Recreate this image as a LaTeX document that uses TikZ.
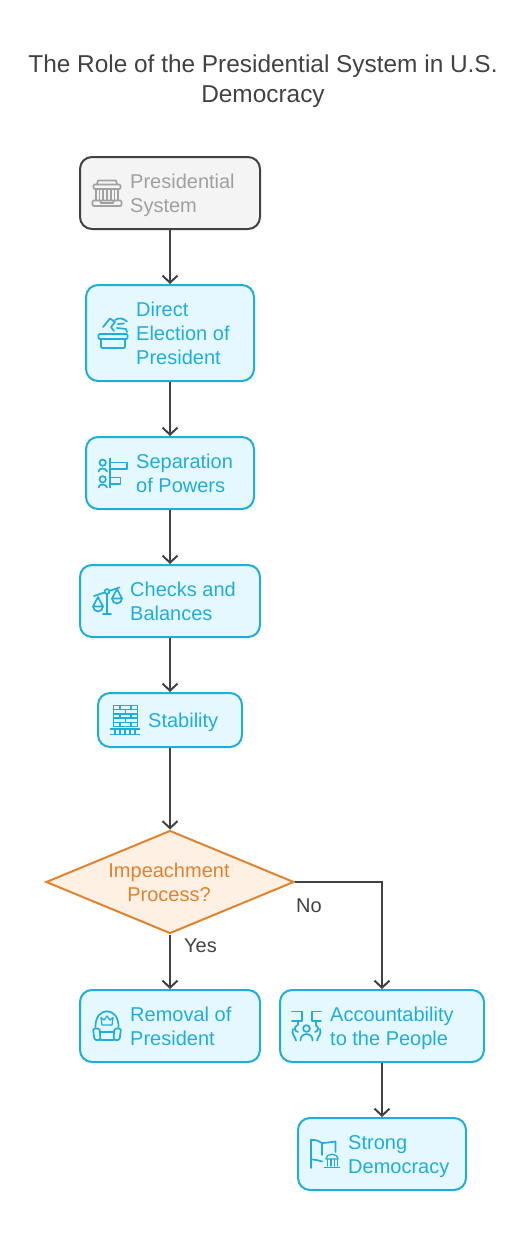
\documentclass[tikz,border=0pt]{standalone}
\usepackage{fontspec}
\setmainfont{Liberation Sans}
\usetikzlibrary{arrows.meta,shapes.geometric}
\definecolor{psBlue}{HTML}{1FADDB}
\definecolor{psBlueFill}{HTML}{E5F8FF}
\definecolor{psGray}{HTML}{A0A0A0}
\definecolor{psGrayFill}{HTML}{F4F4F4}
\definecolor{psDark}{HTML}{424242}
\definecolor{psOrange}{HTML}{E0832E}
\definecolor{psOrangeFill}{HTML}{FFF0E4}
\tikzset{
  flowbox/.style={draw=psBlue, fill=psBlueFill, line width=2pt, rounded corners=12pt, inner sep=0pt},
  startbox/.style={flowbox, draw=psDark, fill=psGrayFill},
  boxtext/.style={anchor=west, inner sep=0pt, align=left, text=psBlue, font=\fontsize{20}{24}\selectfont},
  starttext/.style={boxtext, text=psGray},
  choice/.style={diamond, draw=psOrange, fill=psOrangeFill, line width=2pt, inner sep=0pt, aspect=2.41},
  choicetext/.style={boxtext, anchor=center, align=center, text=psOrange},
  edgetext/.style={boxtext, text=psDark},
  arrow/.style={draw=psDark, line width=2pt, -{Straight Barb[length=7pt,width=15pt]}},
  icon/.style={draw=psBlue, line width=1.7pt, line join=round, line cap=round},
  starticon/.style={icon, draw=psGray}
}

\begin{document}
\begin{tikzpicture}[x=1pt, y=-1pt]
  \useasboundingbox (0,0) rectangle (531,1239);

  % Title
  \node[anchor=center, inner sep=0pt, align=center, text=psDark, font=\fontsize{24.4}{30}\selectfont] (title) at (263,81) {The Role of the Presidential System in U.S.\\Democracy};

  % Boxes
  \node[startbox, minimum width=180pt, minimum height=72pt] (system) at (170,193) {};
  \node[flowbox, minimum width=168pt, minimum height=96pt] (election) at (170,333) {};
  \node[flowbox, minimum width=168pt, minimum height=72pt] (separation) at (170,473) {};
  \node[flowbox, minimum width=180pt, minimum height=72pt] (checks) at (170,601) {};
  \node[flowbox, minimum width=144pt, minimum height=54pt] (stability) at (170,720) {};
  \node[choice, minimum width=248pt, minimum height=103pt] (impeachment) at (170,882) {};
  \node[flowbox, minimum width=180pt, minimum height=72pt] (removal) at (170,1026) {};
  \node[flowbox, minimum width=204pt, minimum height=72pt] (people) at (382,1026) {};
  \node[flowbox, minimum width=168pt, minimum height=72pt] (democracy) at (382,1154) {};

  % Box texts
  \node[starttext] (systemtext) at (130,195) {Presidential\\System};
  \node[boxtext] (electiontext) at (136,333) {Direct\\Election of\\President};
  \node[boxtext] (separationtext) at (136,473) {Separation\\of Powers};
  \node[boxtext] (checkstext) at (130,601) {Checks and\\Balances};
  \node[boxtext] (stabilitytext) at (148,722) {Stability};
  \node[choicetext] (impeachmenttext) at (169,882) {Impeachment\\Process?};
  \node[boxtext] (removaltext) at (130,1026) {Removal of\\President};
  \node[boxtext] (peopletext) at (330,1028) {Accountability\\to the People};
  \node[boxtext] (democracytext) at (348,1156.5) {Strong\\Democracy};

  % Connectors
  \draw[arrow] (system) -- (election);
  \draw[arrow] (election) -- (separation);
  \draw[arrow] (separation) -- (checks);
  \draw[arrow] (checks) -- (stability);
  \draw[arrow] (stability) -- (impeachment);
  \draw[arrow] (impeachment) -- (removal);
  \draw[arrow] (impeachment.east) -| (people.north);
  \draw[arrow] (people) -- (democracy);
  \node[edgetext] (yes) at (184,946) {Yes};
  \node[edgetext] (no) at (296,906) {No};

  % Courthouse icon
  \draw[starticon] (97,184) -- (98,180.5) -- (116,180.5) -- (117,184);
  \draw[starticon, rounded corners=1pt] (93.5,184.5) rectangle (120.5,189);
  \foreach \x in {96,99.5,103,107,111,114.5,118} \draw[starticon] (\x,189) -- (\x,200);
  \draw[starticon, rounded corners=1pt] (92.5,200.5) rectangle (121.5,206);
  \draw[starticon] (100,200.5) -- (101,203) -- (113,203) -- (114,200.5);

  % Ballot box icon
  \draw[icon, rounded corners=1pt] (98.5,334) rectangle (127.5,339);
  \draw[icon, rounded corners=1pt] (101,339) rectangle (125,348);
  \draw[icon] (103,327) -- (110,318.5) -- (115,322) -- (111,327) -- (114,331);
  \draw[icon] (115,320) .. controls (119,317.5) and (123,318) .. (127,321.5);
  \draw[icon] (118,324) -- (124,323.5) (117,328) -- (126,329) -- (127,332);

  % Signpost icon
  \draw[icon] (102.7,462.7) circle (3.2pt) (102.7,479.3) circle (3.2pt);
  \draw[icon] (98.5,471.5) .. controls (99,467.5) and (106,467.5) .. (107,471.5);
  \draw[icon] (98.5,487.5) .. controls (99,483.5) and (106,483.5) .. (107,487.5);
  \draw[icon] (110,458.5) -- (110,487.5);
  \draw[icon] (110,462.5) -- (127,462.5) -- (127,469) -- (110,469);
  \draw[icon] (110,477.5) -- (120.5,477.5) -- (120.5,484) -- (110,484);

  % Scales icon
  \draw[icon] (107,594) -- (107,614) (103,614) -- (111,614);
  \draw[icon] (107,591.5) circle (2.4pt);
  \draw[icon] (94,596) -- (104.5,592.5) (109.5,590.8) -- (119.5,587.5);
  \draw[icon] (98,597) -- (93,606.5) -- (103,606.5) -- cycle;
  \draw[icon] (93,606.5) arc[start angle=180, end angle=360, radius=5pt];
  \draw[icon] (117,589) -- (112,598.5) -- (122,598.5) -- cycle;
  \draw[icon] (112,598.5) arc[start angle=180, end angle=360, radius=5pt];

  % Brick wall icon
  \draw[icon, line width=1.4pt] (113.5,705.5) rectangle (137.5,726.5);
  \foreach \y in {709.7,713.9,718.1,722.3} \draw[icon, line width=1.4pt] (113.5,\y) -- (137.5,\y);
  \foreach \x in {120,131} \draw[icon, line width=1.4pt] (\x,705.5) -- (\x,709.7) (\x,713.9) -- (\x,718.1) (\x,722.3) -- (\x,726.5);
  \foreach \x in {125.5} \draw[icon, line width=1.4pt] (\x,709.7) -- (\x,713.9) (\x,718.1) -- (\x,722.3);
  \draw[icon] (110.5,729) -- (139.5,729) (110.5,734.5) -- (139.5,734.5);
  \foreach \x in {115,120,125,130,135} \draw[icon, line width=1.2pt] (\x,729) -- (\x,734.5);

  % Throne icon
  \draw[icon] (95.5,1027) .. controls (95,1006) and (119,1006) .. (118.5,1027);
  \draw[icon, rounded corners=1.5pt] (93,1028.5) -- (99.5,1028.5) -- (100.5,1040) -- (94.5,1040) -- cycle;
  \draw[icon, rounded corners=1.5pt] (114.5,1028.5) -- (121,1028.5) -- (119.5,1040) -- (113.5,1040) -- cycle;
  \draw[icon] (100,1032) -- (114,1032) (100.5,1040) -- (113.5,1040);
  \draw[icon, line width=1.3pt] (101,1017.5) -- (104,1020) -- (107,1016) -- (110,1020) -- (113,1017.5) -- (112,1025) -- (102,1025) -- cycle;

  % Placards and people icon
  \draw[icon] (292,1011.5) -- (302,1011.5) -- (302,1021) -- (292,1021);
  \draw[icon] (321,1011.5) -- (312,1011.5) -- (312,1021) -- (321,1021);
  \draw[icon] (298,1021) -- (298,1025) (316,1021) -- (316,1025);
  \draw[icon] (306.5,1028.5) circle (3.4pt);
  \draw[icon] (300.5,1040.5) .. controls (300,1032) and (313,1032) .. (312.5,1040.5);
  \draw[icon] (297,1025.5) .. controls (294,1027) and (294,1031) .. (298,1032);
  \draw[icon] (316,1025.5) .. controls (319,1027) and (319,1031) .. (315,1032);
  \draw[icon] (293,1029) .. controls (291,1034) and (295,1036) .. (296,1040.5);
  \draw[icon] (320,1029) .. controls (322,1034) and (318,1036) .. (317,1040.5);

  % Flag and capitol icon
  \draw[icon] (311,1139.5) -- (311,1168);
  \draw[icon] (311,1140) .. controls (316,1139.5) and (319,1141) .. (322,1143) .. controls (326,1143) and (331,1142) .. (335.5,1141.5) -- (335.5,1152);
  \draw[icon] (311,1159.5) .. controls (315,1159.5) and (319,1160.5) .. (322,1161.5);
  \draw[icon] (322,1143) -- (322,1155);
  \draw[icon, line width=1.3pt] (326,1159) .. controls (327,1152.5) and (337,1152.5) .. (338,1159) -- cycle;
  \foreach \x in {327.5,331,334.5,337.5} \draw[icon, line width=1.3pt] (\x,1159) -- (\x,1166);
  \draw[icon, line width=1.3pt] (324.5,1167.5) -- (339.5,1167.5);
\end{tikzpicture}
\end{document}
